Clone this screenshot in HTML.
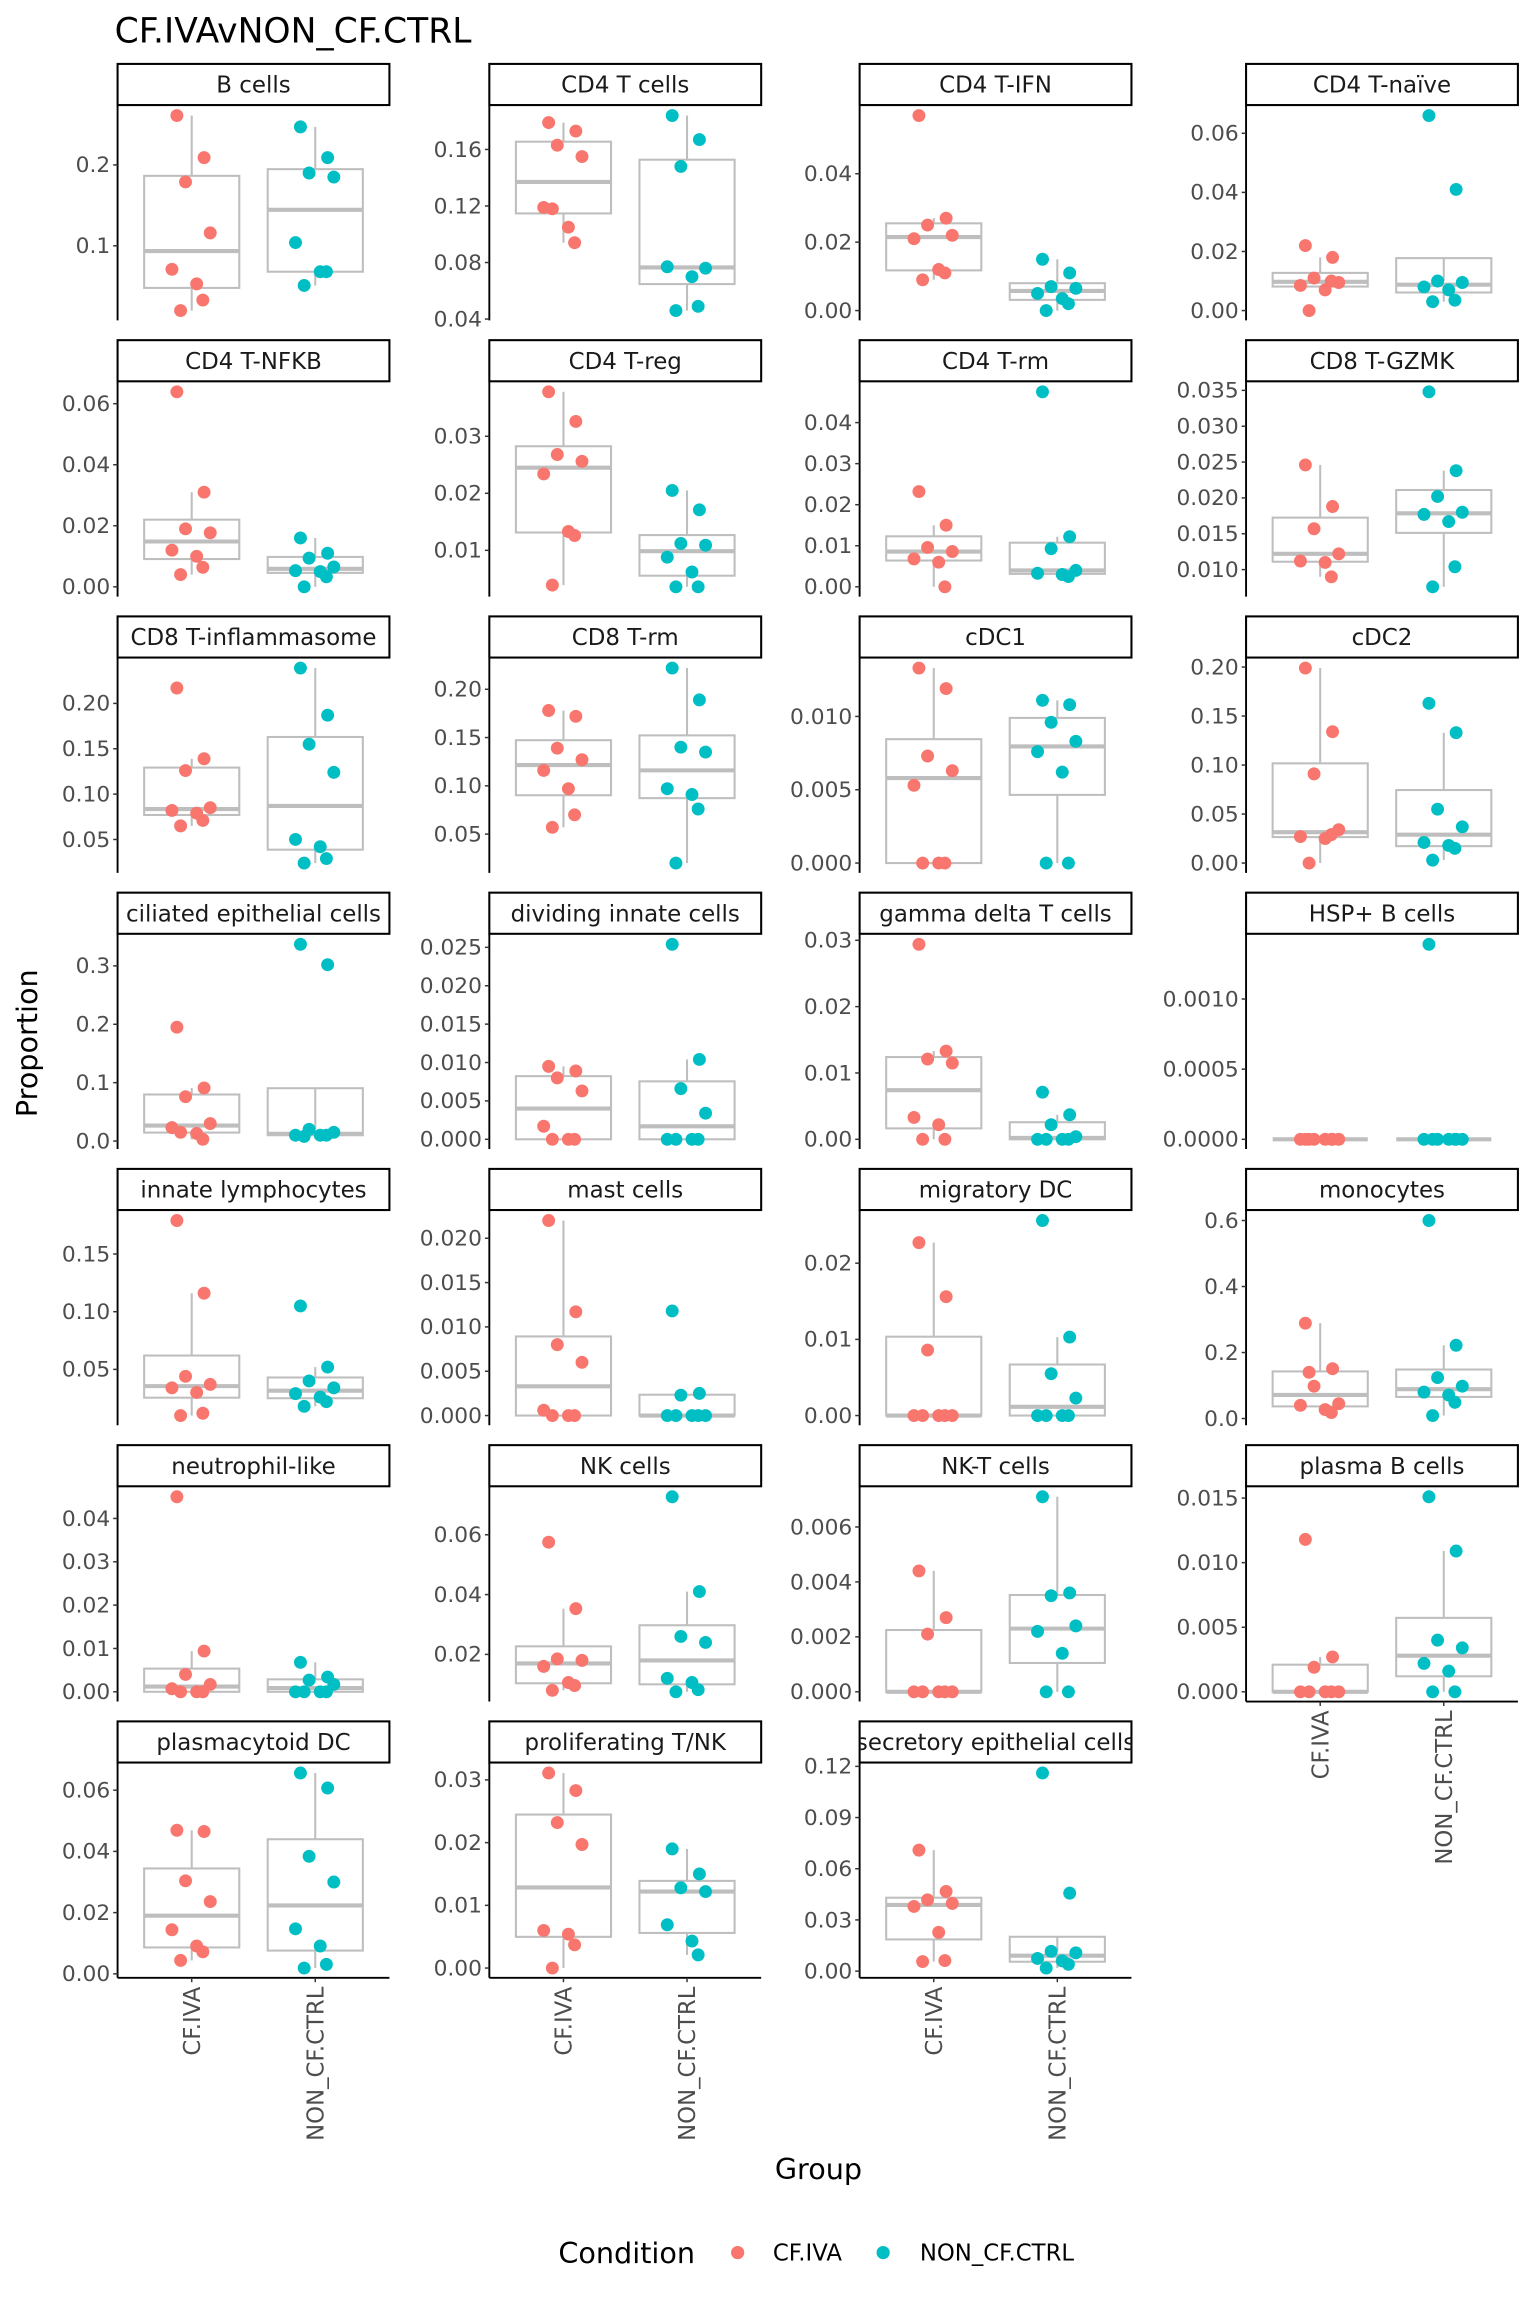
<!DOCTYPE html>
<html><head><meta charset="utf-8">
<style>
html,body{margin:0;padding:0;background:#fff;}
svg{display:block;font-family:"DejaVu Sans","Liberation Sans",sans-serif;}
</style></head>
<body>
<svg id="chart" width="1536" height="2304" viewBox="0 0 1045.3 1568" xmlns="http://www.w3.org/2000/svg">
<text x="78" y="29" font-size="23.5" fill="#000">CF.IVAvNON_CF.CTRL</text>
<text transform="translate(25,710) rotate(-90)" text-anchor="middle" font-size="19.5" fill="#000">Proportion</text>
<text x="557" y="1483" text-anchor="middle" font-size="19.5" fill="#000">Group</text>
<g>
<text x="380" y="1540" font-size="19.5" fill="#000">Condition</text>
<circle cx="502" cy="1533" r="4.5" fill="#F8766D"/>
<text x="526" y="1538.5" font-size="15.5" fill="#000">CF.IVA</text>
<circle cx="601" cy="1533" r="4.5" fill="#00BFC4"/>
<text x="626" y="1538.5" font-size="15.5" fill="#000">NON_CF.CTRL</text>
</g>
<g id="facets"></g>
</svg>
<script>
const facetNames = ["B cells","CD4 T cells","CD4 T-IFN","CD4 T-naïve","CD4 T-NFKB","CD4 T-reg","CD4 T-rm","CD8 T-GZMK","CD8 T-inflammasome","CD8 T-rm","cDC1","cDC2","ciliated epithelial cells","dividing innate cells","gamma delta T cells","HSP+ B cells","innate lymphocytes","mast cells","migratory DC","monocytes","neutrophil-like","NK cells","NK-T cells","plasma B cells","plasmacytoid DC","proliferating T/NK","secretory epithelial cells"];
const groups = ["CF.IVA","NON_CF.CTRL"];
const tickLabels = [
 ["0.1","0.2"],["0.04","0.08","0.12","0.16"],["0.00","0.02","0.04"],["0.00","0.02","0.04","0.06"],
 ["0.00","0.02","0.04","0.06"],["0.01","0.02","0.03"],["0.00","0.01","0.02","0.03","0.04"],["0.010","0.015","0.020","0.025","0.030","0.035"],
 ["0.05","0.10","0.15","0.20"],["0.05","0.10","0.15","0.20"],["0.000","0.005","0.010"],["0.00","0.05","0.10","0.15","0.20"],
 ["0.0","0.1","0.2","0.3"],["0.000","0.005","0.010","0.015","0.020","0.025"],["0.00","0.01","0.02","0.03"],["0.0000","0.0005","0.0010"],
 ["0.05","0.10","0.15"],["0.000","0.005","0.010","0.015","0.020"],["0.00","0.01","0.02"],["0.0","0.2","0.4","0.6"],
 ["0.00","0.01","0.02","0.03","0.04"],["0.02","0.04","0.06"],["0.000","0.002","0.004","0.006"],["0.000","0.005","0.010","0.015"],
 ["0.00","0.02","0.04","0.06"],["0.00","0.01","0.02","0.03"],["0.00","0.03","0.06","0.09","0.12"]
];
const cfValues = [
 [0.261,0.209,0.179,0.116,0.071,0.053,0.033,0.020],
 [0.179,0.173,0.163,0.155,0.119,0.105,0.094,0.118],
 [0.057,0.027,0.025,0.022,0.021,0.012,0.011,0.009],
 [0.022,0.018,0.011,0.0095,0.0085,0.007,0.010,0.0],
 [0.0639,0.031,0.019,0.0177,0.012,0.010,0.0064,0.004],
 [0.0378,0.0326,0.0268,0.0256,0.0234,0.0133,0.0126,0.0039],
 [0.0232,0.015,0.0096,0.0086,0.0068,0.006,0.0],
 [0.0246,0.0188,0.0157,0.0122,0.0112,0.011,0.009],
 [0.217,0.139,0.126,0.085,0.082,0.079,0.071,0.065],
 [0.178,0.172,0.139,0.127,0.116,0.097,0.070,0.057],
 [0.0133,0.0119,0.0073,0.0063,0.0053,0,0,0],
 [0.199,0.134,0.091,0.034,0.027,0.025,0.029,0.0],
 [0.195,0.091,0.076,0.030,0.023,0.013,0.003,0.015],
 [0.0095,0.0089,0.008,0.0063,0.0017,0,0,0],
 [0.0294,0.0133,0.0121,0.0115,0.0033,0.0022,0,0],
 [0,0,0,0,0,0,0,0],
 [0.179,0.116,0.044,0.037,0.034,0.030,0.012,0.010],
 [0.022,0.0117,0.008,0.006,0.0006,0,0,0],
 [0.0227,0.0156,0.0086,0,0,0,0,0],
 [0.289,0.151,0.098,0.045,0.040,0.027,0.018,0.140],
 [0.045,0.0094,0.004,0.0017,0.0007,0,0,0],
 [0.0575,0.0353,0.0185,0.018,0.016,0.0106,0.0096,0.008],
 [0.0044,0.0027,0.0021,0,0,0,0,0],
 [0.0118,0.0027,0.0019,0,0,0,0,0],
 [0.0469,0.0465,0.0304,0.0236,0.0144,0.0091,0.0072,0.0044],
 [0.0311,0.0283,0.0232,0.0197,0.006,0.0054,0.0037,0],
 [0.0709,0.0467,0.0418,0.0397,0.0379,0.0227,0.0062,0.0056]
];
const ncValues = [
 [0.247,0.209,0.190,0.185,0.104,0.068,0.068,0.051],
 [0.184,0.167,0.148,0.076,0.077,0.070,0.049,0.046],
 [0.015,0.011,0.007,0.0065,0.005,0.0035,0.002,0.0],
 [0.066,0.041,0.010,0.0095,0.008,0.007,0.0035,0.003],
 [0.016,0.011,0.0094,0.0065,0.0053,0.005,0.0033,0.0],
 [0.0205,0.0171,0.0112,0.0109,0.0088,0.0062,0.0036,0.0036],
 [0.0475,0.0122,0.0093,0.004,0.0033,0.003,0.0025],
 [0.0348,0.0238,0.0202,0.018,0.0177,0.0167,0.0104,0.0076],
 [0.239,0.187,0.155,0.124,0.050,0.042,0.029,0.024],
 [0.222,0.189,0.140,0.135,0.097,0.091,0.076,0.020],
 [0.0111,0.0108,0.0096,0.0083,0.0076,0.0062,0,0],
 [0.163,0.133,0.055,0.037,0.021,0.018,0.015,0.003],
 [0.337,0.302,0.020,0.015,0.010,0.010,0.010,0.008],
 [0.0254,0.0104,0.0066,0.0034,0,0,0,0],
 [0.0071,0.0037,0.0022,0.0004,0,0,0,0],
 [0.00139,0,0,0,0,0,0,0],
 [0.105,0.052,0.040,0.034,0.029,0.026,0.022,0.018],
 [0.0118,0.0025,0.0023,0,0,0,0,0],
 [0.0256,0.0103,0.0055,0.0023,0,0,0,0],
 [0.600,0.222,0.124,0.098,0.080,0.071,0.049,0.009],
 [0.0068,0.0034,0.0027,0.0017,0,0,0,0],
 [0.0727,0.041,0.026,0.024,0.012,0.0106,0.0082,0.0075],
 [0.0071,0.0036,0.0035,0.0024,0.0022,0.0014,0,0],
 [0.0151,0.0109,0.004,0.0034,0.0022,0.0016,0,0],
 [0.0656,0.0607,0.0384,0.030,0.0147,0.0091,0.0031,0.0019],
 [0.019,0.015,0.0128,0.0122,0.0069,0.0043,0.0021],
 [0.1161,0.0457,0.0116,0.0107,0.0074,0.006,0.004,0.0018]
];
const jitterOffsets = [-0.12,0.10,-0.05,0.15,-0.16,0.04,0.09,-0.09];

const NS = "http://www.w3.org/2000/svg";
const root = document.getElementById("facets");
const colLeft = [80,333,585,848], PW = 185, STRIP = 29, PH = 146, ROW0 = 43, PITCH = 188;
const colors = ["#F8766D","#00BFC4"];
function mk(tag, attrs, parent){ const e=document.createElementNS(NS,tag); for(const k in attrs) e.setAttribute(k,attrs[k]); parent.appendChild(e); return e; }
function quant(s,p){ const h=(s.length-1)*p, lo=Math.floor(h), hi=Math.ceil(h); return s[lo]+(s[hi]-s[lo])*(h-lo); }

facetNames.forEach((name,i)=>{
  const col=i%4, row=Math.floor(i/4);
  const x0=colLeft[col], sTop=ROW0+row*PITCH, pTop=sTop+STRIP, pBot=pTop+PH;
  const g=mk("g",{},root);
  
  
  const all=cfValues[i].concat(ncValues[i]);
  let mn=Math.min(...all), mx=Math.max(...all); if(mx===mn) mx=mn+1;
  const pad=(mx-mn)*0.05; const dMin=mn-pad, dMax=mx+pad;
  const yS=v=>pBot-(v-dMin)/(dMax-dMin)*PH;
  const xS=u=>x0+(u-0.4)/2.2*PW;
  const sr=mk("rect",{x:x0,y:sTop+0.5,width:PW,height:STRIP-1,fill:"#fff",stroke:"#000","stroke-width":1.4},g);
  
  
  const st=mk("text",{x:x0+PW/2,y:sTop+20,"text-anchor":"middle","font-size":15.6,fill:"#1a1a1a"},g);
  
  
  st.textContent=name;
  const cid="c"+i; const cp=mk("clipPath",{id:cid},g); mk("rect",{x:x0,y:sTop,width:PW,height:STRIP},cp);
  st.setAttribute("clip-path","url(#"+cid+")");
  const ax=mk("line",{x1:x0,y1:pTop,x2:x0,y2:pBot,stroke:"#000","stroke-width":1.3},g);
  
  
  tickLabels[i].forEach(lbl=>{
    const v=parseFloat(lbl), y=yS(v);
    mk("line",{x1:x0-3,y1:y,x2:x0,y2:y,stroke:"#333","stroke-width":1},g);
    const t=mk("text",{x:x0-5,y:y+5,"text-anchor":"end","font-size":14.8,fill:"#4d4d4d"},g);
    
    
    t.textContent=lbl;
  });
  const bottom = row===6 || (row===5 && col===3);
  if(bottom){
    const bx=mk("line",{x1:x0,y1:pBot,x2:x0+PW,y2:pBot,stroke:"#000","stroke-width":1.3},g);
    
    
    groups.forEach((gn,k)=>{
      const cx=xS(k+1);
      mk("line",{x1:cx,y1:pBot,x2:cx,y2:pBot+3,stroke:"#333","stroke-width":1},g);
      const t=mk("text",{transform:"translate("+(cx+5.5)+","+(pBot+6)+") rotate(-90)","text-anchor":"end","font-size":15.5,fill:"#4d4d4d"},g);
      
      
      t.textContent=gn;
    });
  }
  [cfValues[i],ncValues[i]].forEach((vals,k)=>{
    const s=vals.slice().sort((a,b)=>a-b);
    const q1=quant(s,0.25), med=quant(s,0.5), q3=quant(s,0.75), iqr=q3-q1;
    const lo=s.find(v=>v>=q1-1.5*iqr), hi=s.slice().reverse().find(v=>v<=q3+1.5*iqr);
    const cx=xS(k+1), hw=0.385/2.2*PW;
    const bg=mk("g",{},g);
    
    
    mk("line",{x1:cx,y1:yS(hi),x2:cx,y2:yS(q3),stroke:"#bebebe","stroke-width":1.4},bg);
    mk("line",{x1:cx,y1:yS(q1),x2:cx,y2:yS(lo),stroke:"#bebebe","stroke-width":1.4},bg);
    mk("rect",{x:cx-hw,y:yS(q3),width:2*hw,height:Math.max(0,yS(q1)-yS(q3)),fill:"none",stroke:"#bebebe","stroke-width":1.4},bg);
    mk("line",{x1:cx-hw,y1:yS(med),x2:cx+hw,y2:yS(med),stroke:"#bebebe","stroke-width":2.8},bg);
    vals.forEach((v,j)=>{
      const c=mk("circle",{cx:xS(k+1+jitterOffsets[j%jitterOffsets.length]),cy:yS(v),r:4.4,fill:colors[k]},g);
      
      
    });
  });
});
</script>
</body></html>
